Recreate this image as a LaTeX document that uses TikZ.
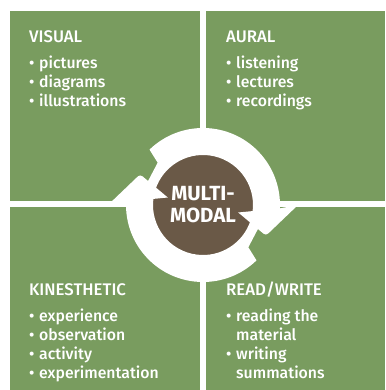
\documentclass[tikz,border=0pt]{standalone}
\usepackage{fontspec}
\IfFontExistsTF{Fira Sans Medium}
  {\setmainfont{Fira Sans Medium}[BoldFont={Fira Sans Bold}]}
  {\setmainfont{Fira Sans}}
\definecolor{quadgreen}{RGB}{121,156,95}
\definecolor{hubbrown}{RGB}{106,89,71}
\newcommand{\bul}{\makebox[10pt][l]{\textbullet}}

\begin{document}
\begin{tikzpicture}[x=1pt, y=1pt,
    quad/.style={fill=quadgreen},
    head/.style={anchor=base west, inner sep=0pt, text=white, font=\fontsize{16.8}{19}\selectfont},
    entry/.style={anchor=base west, inner sep=0pt, text=white, font=\fontsize{15.8}{19}\selectfont},
    hubtext/.style={align=center, text=white, inner sep=0pt, font=\fontsize{20.5}{22}\selectfont\bfseries}]
    \useasboundingbox (0,0) rectangle (385,390);
    \fill[white] (0,0) rectangle (385,390);

    % Quadrants
    \fill[quad] (10,189) rectangle (200,379);
    \fill[quad] (206,189) rectangle (385,379);
    \fill[quad] (10,0) rectangle (200,183);
    \fill[quad] (206,0) rectangle (385,183);

    % Hub
    \coordinate (C) at (203,185);
    \fill[hubbrown] (C) circle[radius=51pt];

    % Cycle arrows (notched tail, head reaching past the ring)
    \foreach \r in {0,180} {
        \fill[white, shift={(C)}, rotate=\r]
            (134:77pt) arc[start angle=134, end angle=-2.5, radius=77pt]
            -- (0:95pt) [rounded corners=3pt] -- (-26:70pt) [sharp corners] -- (-12:36pt)
            -- (-7:50pt) arc[start angle=-7, end angle=162, radius=50pt]
            -- (157:60pt) -- (137:62pt) -- cycle;
    }
    \node[hubtext] (hub) at (C) {MULTI-\\MODAL};

    % Visual
    \node[head] (visual) at (29,347) {VISUAL};
    \foreach \txt [count=\i] in {pictures, diagrams, illustrations}
        \node[entry] (visual-\i) at (29,340-19*\i) {\bul\txt};

    % Aural
    \node[head] (aural) at (226,347) {AURAL};
    \foreach \txt [count=\i] in {listening, lectures, recordings}
        \node[entry] (aural-\i) at (226,340-19*\i) {\bul\txt};

    % Kinesthetic
    \node[head] (kines) at (29,94) {KINESTHETIC};
    \foreach \txt [count=\i] in {experience, observation, activity, experimentation}
        \node[entry] (kines-\i) at (29,87-19*\i) {\bul\txt};

    % Read/write
    \node[head] (readwrite) at (226,94) {READ/WRITE};
    \foreach \b/\txt [count=\i] in {1/reading the, 0/material, 1/writing, 0/summations}
        \node[entry] (readwrite-\i) at (226,87-19*\i) {\ifnum\b=1 \bul\else\hspace{10pt}\fi\txt};
\end{tikzpicture}
\end{document}
